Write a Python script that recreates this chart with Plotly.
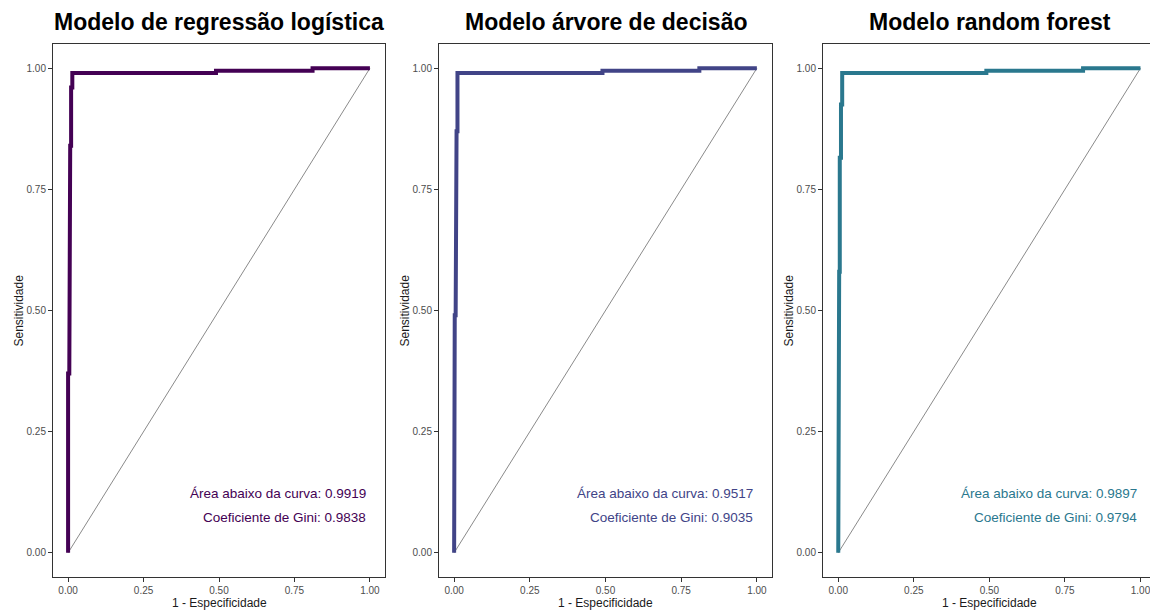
import plotly.graph_objects as go

W, H = 1150, 611

titles = ["Modelo de regressão logística", "Modelo árvore de decisão", "Modelo random forest"]
colors = ["#440154", "#414487", "#2A788E"]
auc = [0.9919, 0.9517, 0.9897]
gini = [0.9838, 0.9035, 0.9794]

# ROC curve corner points (1 - especificidade, sensitividade)
fpr_log = [0, 0, 0.004, 0.004, 0.007, 0.007, 0.010, 0.010, 0.014, 0.014, 0.49, 0.49, 0.81, 0.81, 1.0]
tpr_log = [0, 0.37, 0.37, 0.65, 0.65, 0.84, 0.84, 0.96, 0.96, 0.99, 0.99, 0.995, 0.995, 1.0, 1.0]

fpr_tree = [0, 0, 0.002, 0.002, 0.005, 0.005, 0.008, 0.008, 0.011, 0.011, 0.014, 0.014, 0.49, 0.49, 0.81, 0.81, 1.0]
tpr_tree = [0, 0.045, 0.045, 0.49, 0.49, 0.715, 0.715, 0.87, 0.87, 0.99, 0.99, 0.99, 0.99, 0.995, 0.995, 1.0, 1.0]

fpr_rf = [0, 0, 0.003, 0.003, 0.005, 0.005, 0.009, 0.009, 0.013, 0.013, 0.49, 0.49, 0.81, 0.81, 1.0]
tpr_rf = [0, 0.25, 0.25, 0.58, 0.58, 0.815, 0.815, 0.925, 0.925, 0.99, 0.99, 0.995, 0.995, 1.0, 1.0]

curves = [(fpr_log, tpr_log), (fpr_tree, tpr_tree), (fpr_rf, tpr_rf)]

tick_vals = [0, 0.25, 0.5, 0.75, 1.0]
tick_text = ["0.00", "0.25", "0.50", "0.75", "1.00"]

# panel frames in pixels (left, right)
frames = [(53, 385), (439, 772), (823, 1150)]
frame_top, frame_bot = 44, 577
xranges = [[-0.05, 1.05], [-0.05, 1.05], [-0.0505, 1.0315]]

fig = go.Figure()

for i, (fx, ty) in enumerate(curves):
    sfx = "" if i == 0 else str(i + 1)
    # diagonal reference line
    fig.add_trace(go.Scatter(x=[0, 1], y=[0, 1], mode="lines",
                             line=dict(color="#3a3a3a", width=0.6),
                             xaxis="x" + sfx, yaxis="y" + sfx,
                             showlegend=False, hoverinfo="skip"))
    fig.add_trace(go.Scatter(x=fx, y=ty, mode="lines",
                             line=dict(color=colors[i], width=4),
                             xaxis="x" + sfx, yaxis="y" + sfx,
                             showlegend=False))

layout = dict(
    width=W, height=H,
    margin=dict(l=0, r=0, t=0, b=0),
    paper_bgcolor="white", plot_bgcolor="white",
    font=dict(family="Liberation Sans, Arial, sans-serif", color="#000000"),
    annotations=[],
)

ydom = [(H - frame_bot) / H, (H - frame_top) / H]

for i in range(3):
    sfx = "" if i == 0 else str(i + 1)
    l, r = frames[i]
    axis_common = dict(
        showgrid=False, zeroline=False,
        showline=True, linecolor="#333333", linewidth=1,
        ticks="outside", ticklen=4, tickwidth=1, tickcolor="#333333",
        tickvals=tick_vals, ticktext=tick_text,
        tickfont=dict(size=10, color="#4D4D4D", family="Liberation Sans, Arial, sans-serif"),
        automargin=False, fixedrange=True, ticklabeloverflow="allow",
    )
    layout["xaxis" + sfx] = dict(axis_common, domain=[l / W, r / W], range=xranges[i],
                                 anchor="y" + sfx, mirror=True)
    layout["yaxis" + sfx] = dict(axis_common, domain=ydom, range=[-0.05, 1.05],
                                 anchor="x" + sfx, mirror=(i < 2))
    full_r = 1156 if i == 2 else r
    cx = (l + full_r) / 2 / W
    # panel title
    layout["annotations"].append(dict(
        text="<b>" + titles[i] + "</b>", xref="paper", yref="paper",
        x=cx, y=(H - 22) / H, xanchor="center", yanchor="middle",
        showarrow=False, font=dict(size=23, color="#000000")))
    # x axis title
    layout["annotations"].append(dict(
        text="1 - Especificidade", xref="paper", yref="paper",
        x=((l + full_r) / 2 + 0) / W, y=(H - 603) / H, xanchor="center", yanchor="middle",
        showarrow=False, font=dict(size=12, color="#1a1a1a")))
    # y axis title
    layout["annotations"].append(dict(
        text="Sensitividade", xref="paper", yref="paper",
        x=(l - 34) / W, y=(H - (frame_top + frame_bot) / 2) / H,
        xanchor="center", yanchor="middle", textangle=-90,
        showarrow=False, font=dict(size=12, color="#1a1a1a")))
    # AUC / Gini annotations
    layout["annotations"].append(dict(
        text="Área abaixo da curva: %.4f" % auc[i], xref="x" + sfx, yref="y" + sfx,
        x=0.995, y=0.122, xanchor="right", yanchor="middle",
        showarrow=False, font=dict(size=13.5, color=colors[i])))
    layout["annotations"].append(dict(
        text="Coeficiente de Gini: %.4f" % gini[i], xref="x" + sfx, yref="y" + sfx,
        x=0.995, y=0.072, xanchor="right", yanchor="middle",
        showarrow=False, font=dict(size=13.5, color=colors[i])))

fig.update_layout(**layout)
fig.write_html("out.html", config={"displayModeBar": False},
               post_script="document.body.style.margin='0';document.body.style.overflow='hidden';")
